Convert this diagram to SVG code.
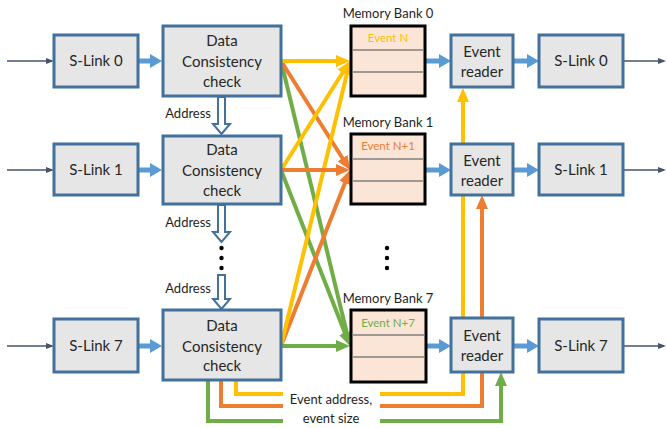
<svg xmlns="http://www.w3.org/2000/svg" width="667" height="428" viewBox="0 0 667 428">
  <style>
    .box { fill: #E7E6E6; stroke: #41719C; stroke-width: 3; }
    .bank { fill: #FBE5D6; stroke: #000; stroke-width: 3; }
    .row { stroke: #7F7F7F; stroke-width: 1.5; }
    .t { font-family: Lato, "Open Sans", sans-serif; font-size: 15px; fill: #262626; text-anchor: middle; }
    .s { font-family: Lato, "Open Sans", sans-serif; font-size: 13px; fill: #1F1F1F; }
    .ev { font-family: Lato, "Open Sans", sans-serif; font-size: 11.5px; text-anchor: middle; }
    .thin { stroke: #44546A; stroke-width: 1.5; fill: none; marker-end: url(#mThin); }
    .blue { stroke: #5B9BD5; stroke-width: 5; fill: none; marker-end: url(#mBlue); }
    .y { stroke: #FFC000; stroke-width: 4; fill: none; marker-end: url(#mY); }
    .o { stroke: #ED7D31; stroke-width: 4; fill: none; marker-end: url(#mO); }
    .g { stroke: #70AD47; stroke-width: 4; fill: none; marker-end: url(#mG); }
    .addr { fill: #fff; stroke: #41719C; stroke-width: 2; }
  </style>
  <defs>
    <marker id="mThin" markerUnits="userSpaceOnUse" markerWidth="8" markerHeight="8" refX="6" refY="4" orient="auto">
      <path d="M0,1 L8,4 L0,7 Z" fill="#44546A"/>
    </marker>
    <marker id="mBlue" markerUnits="userSpaceOnUse" markerWidth="12" markerHeight="14" refX="2" refY="7" orient="auto">
      <path d="M0,0 L12,7 L0,14 Z" fill="#5B9BD5"/>
    </marker>
    <marker id="mY" markerUnits="userSpaceOnUse" markerWidth="14" markerHeight="12" refX="6" refY="6" orient="auto">
      <path d="M0,0 L14,6 L0,12 Z" fill="#FFC000"/>
    </marker>
    <marker id="mO" markerUnits="userSpaceOnUse" markerWidth="14" markerHeight="12" refX="6" refY="6" orient="auto">
      <path d="M0,0 L14,6 L0,12 Z" fill="#ED7D31"/>
    </marker>
    <marker id="mG" markerUnits="userSpaceOnUse" markerWidth="14" markerHeight="12" refX="6" refY="6" orient="auto">
      <path d="M0,0 L14,6 L0,12 Z" fill="#70AD47"/>
    </marker>
  </defs>

  <rect width="667" height="428" fill="#fff"/>

  <!-- connectors -->
  <g id="connectors">
    <!-- inputs and outputs -->
    <path class="thin" d="M7,61 H52"/>
    <path class="thin" d="M7,170 H52"/>
    <path class="thin" d="M7,346 H52"/>
    <path class="thin" d="M623,61 H664"/>
    <path class="thin" d="M623,170 H664"/>
    <path class="thin" d="M623,346 H664"/>

    <!-- blue data arrows -->
    <path class="blue" d="M138,61 H152"/>
    <path class="blue" d="M138,170 H152"/>
    <path class="blue" d="M138,346 H152"/>
    <path class="blue" d="M425,61 H441"/>
    <path class="blue" d="M425,170 H441"/>
    <path class="blue" d="M425,346 H441"/>
    <path class="blue" d="M513,61 H529"/>
    <path class="blue" d="M513,170 H529"/>
    <path class="blue" d="M513,346 H529"/>

    <!-- crossbar to memory banks -->
    <path class="g" d="M281,61 L348.1,338.2"/>
    <path class="g" d="M281,170 L347.1,338.6"/>
    <path class="o" d="M281,61 L345.7,163.2"/>
    <path class="o" d="M281,346 L347.1,177.4"/>
    <path class="y" d="M281,170 L345.7,67.8"/>
    <path class="y" d="M281,346 L348.1,68.8"/>
    <path class="y" d="M281,61 H342"/>
    <path class="o" d="M281,170 H342"/>
    <path class="g" d="M281,346 H342"/>

    <!-- event address / size buses -->
    <path class="y" d="M236,380 V394 H283 M380,394 H463 V96"/>
    <path class="o" d="M221,380 V406 H283 M380,406 H482 V203"/>
    <path class="g" d="M208,380 V421 H283 M380,421 H501 V380"/>

    <!-- address chain -->
    <path class="addr" d="M218,97 H225 V124 H230 L221.5,134 L213,124 H218 Z"/>
    <path class="addr" d="M218,205 H225 V232 H230 L221.5,242 L213,232 H218 Z"/>
    <path class="addr" d="M218,275 H225 V299 H230 L221.5,309 L213,299 H218 Z"/>
    <g fill="#000">
      <circle cx="221.5" cy="248" r="2.2"/>
      <circle cx="221.5" cy="258" r="2.2"/>
      <circle cx="221.5" cy="268" r="2.2"/>
      <circle cx="387" cy="248" r="2.2"/>
      <circle cx="387" cy="258" r="2.2"/>
      <circle cx="387" cy="268" r="2.2"/>
    </g>
    <text class="s" x="211" y="118" text-anchor="end">Address</text>
    <text class="s" x="211" y="227" text-anchor="end">Address</text>
    <text class="s" x="211" y="293" text-anchor="end">Address</text>
    <text class="s" x="331" y="404" text-anchor="middle" font-size="13.5">Event address,</text>
    <text class="s" x="331" y="423" text-anchor="middle" font-size="13.5">event size</text>
  </g>

  <!-- input S-Links -->
  <g id="slink-in-0"><rect class="box" x="54" y="35" width="84" height="52"/><text class="t" x="96" y="66">S-Link 0</text></g>
  <g id="slink-in-1"><rect class="box" x="54" y="144" width="84" height="51"/><text class="t" x="96" y="175">S-Link 1</text></g>
  <g id="slink-in-7"><rect class="box" x="54" y="319" width="84" height="53"/><text class="t" x="96" y="351">S-Link 7</text></g>

  <!-- data consistency checks -->
  <g id="dcc-0"><rect class="box" x="163" y="26" width="118" height="70"/>
    <text class="t" x="222" y="46">Data</text><text class="t" x="222" y="67">Consistency</text><text class="t" x="222" y="87">check</text></g>
  <g id="dcc-1"><rect class="box" x="163" y="136" width="118" height="68"/>
    <text class="t" x="222" y="155">Data</text><text class="t" x="222" y="176">Consistency</text><text class="t" x="222" y="196">check</text></g>
  <g id="dcc-7"><rect class="box" x="163" y="310" width="118" height="70"/>
    <text class="t" x="222" y="331">Data</text><text class="t" x="222" y="352">Consistency</text><text class="t" x="222" y="371">check</text></g>

  <!-- memory banks -->
  <g id="bank-0">
    <text class="s" x="388" y="18" text-anchor="middle">Memory Bank 0</text>
    <rect class="bank" x="351" y="26" width="74" height="70"/>
    <line class="row" x1="352" y1="50" x2="424" y2="50"/><line class="row" x1="352" y1="72" x2="424" y2="72"/>
    <text class="ev" x="388" y="42" fill="#FFC000">Event N</text>
  </g>
  <g id="bank-1">
    <text class="s" x="388" y="127" text-anchor="middle">Memory Bank 1</text>
    <rect class="bank" x="351" y="134" width="74" height="70"/>
    <line class="row" x1="352" y1="159" x2="424" y2="159"/><line class="row" x1="352" y1="181" x2="424" y2="181"/>
    <text class="ev" x="388" y="150" fill="#ED7D31">Event N+1</text>
  </g>
  <g id="bank-7">
    <text class="s" x="388" y="303" text-anchor="middle">Memory Bank 7</text>
    <rect class="bank" x="351" y="310" width="75" height="72"/>
    <line class="row" x1="352" y1="335" x2="425" y2="335"/><line class="row" x1="352" y1="357" x2="425" y2="357"/>
    <text class="ev" x="388" y="327" fill="#70AD47">Event N+7</text>
  </g>

  <!-- event readers -->
  <g id="reader-0"><rect class="box" x="451" y="35" width="62" height="52"/>
    <text class="t" x="482" y="57">Event</text><text class="t" x="482" y="77">reader</text></g>
  <g id="reader-1"><rect class="box" x="451" y="144" width="62" height="51"/>
    <text class="t" x="482" y="166">Event</text><text class="t" x="482" y="186">reader</text></g>
  <g id="reader-7"><rect class="box" x="451" y="318" width="62" height="54"/>
    <text class="t" x="482" y="341">Event</text><text class="t" x="482" y="361">reader</text></g>

  <!-- output S-Links -->
  <g id="slink-out-0"><rect class="box" x="539" y="35" width="84" height="52"/><text class="t" x="581" y="66">S-Link 0</text></g>
  <g id="slink-out-1"><rect class="box" x="539" y="144" width="84" height="51"/><text class="t" x="581" y="175">S-Link 1</text></g>
  <g id="slink-out-7"><rect class="box" x="539" y="319" width="84" height="53"/><text class="t" x="581" y="351">S-Link 7</text></g>
</svg>
